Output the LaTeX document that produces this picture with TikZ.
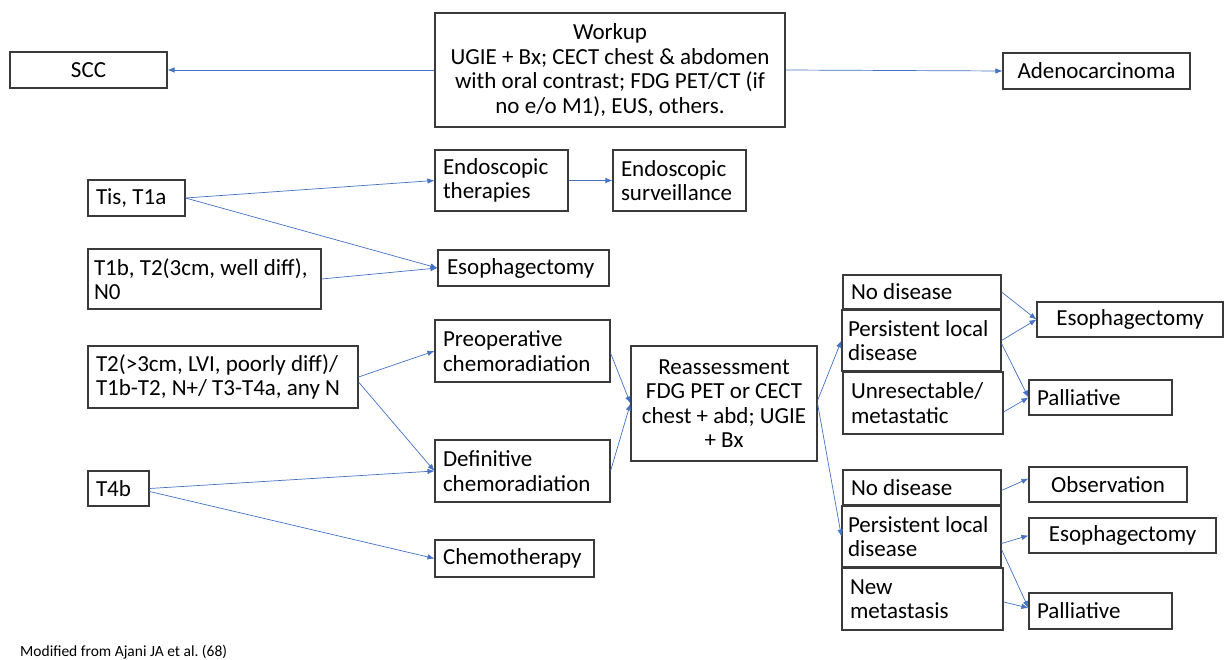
\documentclass[tikz,border=0pt]{standalone}
\usepackage{fontspec}
\setmainfont{Carlito}
\usetikzlibrary{arrows.meta}
\definecolor{arrowBlue}{HTML}{4472C4}
\definecolor{boxLine}{HTML}{3A3A3A}
\tikzset{
	box/.style={draw=boxLine, line width=1.1pt, rectangle, inner xsep=8pt, inner ysep=0pt, align=flush left, font=\fontsize{23}{24.5}\selectfont\frenchspacing},
	boxC/.style={box, align=flush center, inner xsep=4pt},
	arr/.style={-{Latex[length=7pt,width=5.5pt]}, draw=arrowBlue, line width=0.7pt}
}
\begin{document}
\begin{tikzpicture}[x=1pt, y=-1pt]
			
			\fill[white] (0,0) rectangle (1224,660);
			\useasboundingbox (0,0) rectangle (1224,660);
			
			%Workup and histology
			\node (workUp) at (610,70) [boxC, minimum width=350pt, minimum height=114pt, text width=342pt]{Workup\\UGIE + Bx; CECT chest \& abdomen\\with oral contrast; FDG PET/CT (if\\no e/o M1), EUS, others.};
			\node (sccBox) at (88.5,70) [boxC, minimum width=157pt, minimum height=36pt, text width=149pt]{SCC};
			\node (adenoBox) at (1096.5,71) [boxC, minimum width=187pt, minimum height=36pt, text width=179pt]{Adenocarcinoma};
			\draw[arr] (workUp.west) -- (sccBox.east);
			\draw[arr] (workUp.east) -- (adenoBox.west);
			
			%Staging on the left
			\node (tisT1a) at (136.5,198) [box, minimum width=97pt, minimum height=36pt, text width=81pt]{Tis, T1a};
			\node (t1bN0) at (204.5,279) [box, inner xsep=6pt, minimum width=233pt, minimum height=60pt, text width=221pt]{T1b, T2(3cm, well diff),\\N0};
			\node (t2AnyN) at (223,377) [box, minimum width=270pt, minimum height=62pt, text width=254pt]{T2(>3cm, LVI, poorly diff)/\\T1b-T2, N+/ T3-T4a, any N};
			\node (t4b) at (118.5,488.5) [box, minimum width=61pt, minimum height=35pt, text width=45pt]{T4b};
			
			%First treatment
			\node (endoTher) at (501.5,180.5) [box, minimum width=133pt, minimum height=61pt, text width=117pt]{Endoscopic\\therapies};
			\node (endoSurv) at (679.5,180.5) [box, minimum width=133pt, minimum height=61pt, text width=117pt]{Endoscopic\\surveillance};
			\node (esoA) at (523.5,268) [box, minimum width=171pt, minimum height=36pt, text width=153pt]{Esophagectomy};
			\node (preOp) at (522.5,351) [box, minimum width=175pt, minimum height=62pt, text width=159pt]{Preoperative\\chemoradiation};
			\node (defCrt) at (522.5,471) [box, minimum width=175pt, minimum height=62pt, text width=159pt]{Definitive\\chemoradiation};
			\node (chemo) at (514.5,558.5) [box, minimum width=159pt, minimum height=37pt, text width=143pt]{Chemotherapy};
			
			\draw[arr] (tisT1a.east) -- (endoTher.west);
			\draw[arr] (tisT1a.east) -- (esoA.west);
			\draw[arr] (t1bN0.east) -- (esoA.west);
			\draw[arr] (endoTher.east) -- (endoSurv.west);
			\draw[arr] (t2AnyN.east) -- (preOp.west);
			\draw[arr] ([yshift=-5pt]t2AnyN.east) -- (defCrt.west);
			\draw[arr] (t4b.east) -- (defCrt.west);
			\draw[arr] ([yshift=-3pt]t4b.east) -- (chemo.west);
			
			%Reassessment
			\node (reAss) at (724,403.5) [boxC, minimum width=186pt, minimum height=115pt, text width=178pt]{Reassessment\\FDG PET or CECT\\chest + abd; UGIE\\+ Bx};
			\draw[arr] ([yshift=-2pt]preOp.east) -- (reAss.west);
			\draw[arr] (defCrt.east) -- (reAss.west);
			
			%Outcome after preoperative
			\node (noDisA) at (922,292) [box, minimum width=158pt, minimum height=34pt, text width=142pt]{No disease};
			\node (perLocA) at (921.5,340.5) [box, inner xsep=6pt, minimum width=159pt, minimum height=61pt, text width=147pt]{Persistent local\\disease};
			\node (unRes) at (923,403) [box, minimum width=160pt, minimum height=62pt, text width=144pt]{Unresectable/\\metastatic};
			\node (esoB) at (1130,319.5) [boxC, minimum width=186pt, minimum height=35pt, text width=178pt]{Esophagectomy};
			\node (palA) at (1100.5,397.5) [box, minimum width=143pt, minimum height=35pt, text width=127pt]{Palliative};
			
			\draw[arr] ([yshift=3pt]reAss.east) -- (perLocA.west);
			\draw[arr] (noDisA.east) -- (esoB.west);
			\draw[arr] (perLocA.east) -- (esoB.west);
			\draw[arr] ([yshift=-3pt]perLocA.east) -- (palA.west);
			\draw[arr] ([yshift=-9pt]unRes.east) -- (palA.west);
			
			%Outcome after definitive
			\node (noDisB) at (922,487.5) [box, minimum width=158pt, minimum height=35pt, text width=142pt]{No disease};
			\node (perLocB) at (921.5,536.5) [box, inner xsep=6pt, minimum width=159pt, minimum height=61pt, text width=147pt]{Persistent local\\disease};
			\node (newMet) at (922.5,599) [box, minimum width=161pt, minimum height=62pt, text width=145pt]{New\\metastasis};
			\node (obsBox) at (1108,484.5) [boxC, minimum width=158pt, minimum height=35pt, text width=150pt]{Observation};
			\node (esoC) at (1122.5,535.5) [boxC, minimum width=187pt, minimum height=35pt, text width=179pt]{Esophagectomy};
			\node (palB) at (1100.5,611) [box, minimum width=143pt, minimum height=36pt, text width=127pt]{Palliative};
			
			\draw[arr] (reAss.east) -- (perLocB.west);
			\draw[arr] ([yshift=-3pt]noDisB.east) -- ([yshift=6pt]obsBox.west);
			\draw[arr] ([yshift=-7pt]perLocB.east) -- (esoC.west);
			\draw[arr] ([yshift=-13pt]perLocB.east) -- ([yshift=3pt]palB.west);
			\draw[arr] ([yshift=-3pt]newMet.east) -- ([yshift=3pt]palB.west);
			
			%Source
			\node (srcNote) at (20,652) [anchor=west, inner sep=0pt, font=\fontsize{15.5}{17}\selectfont\frenchspacing]{Modified from Ajani JA et al. (68)};
			
\end{tikzpicture}
\end{document}
